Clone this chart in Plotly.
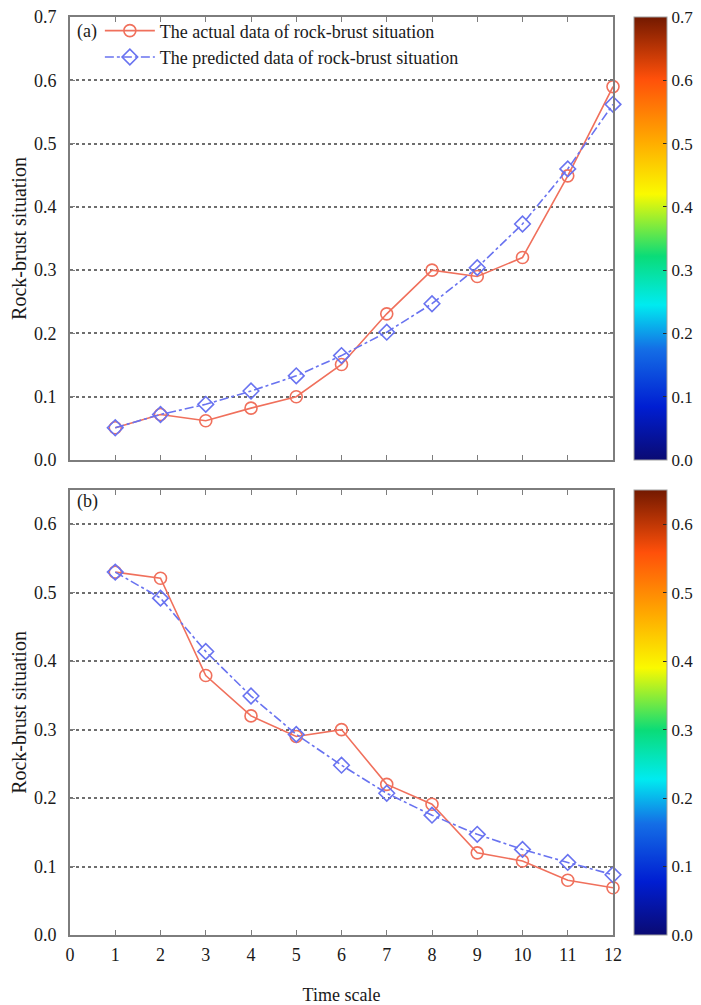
import plotly.graph_objects as go

time_steps = [1, 2, 3, 4, 5, 6, 7, 8, 9, 10, 11, 12]
actual_a = [0.051, 0.072, 0.062, 0.082, 0.100, 0.151, 0.231, 0.300, 0.290, 0.320, 0.449, 0.590]
predicted_a = [0.051, 0.072, 0.088, 0.109, 0.133, 0.165, 0.202, 0.247, 0.304, 0.373, 0.460, 0.562]
actual_b = [0.530, 0.521, 0.379, 0.320, 0.290, 0.300, 0.220, 0.191, 0.120, 0.108, 0.080, 0.069]
predicted_b = [0.530, 0.492, 0.414, 0.349, 0.293, 0.248, 0.207, 0.175, 0.147, 0.125, 0.106, 0.088]
x_ticks = list(range(0, 13))
y_ticks_a = [0.0, 0.1, 0.2, 0.3, 0.4, 0.5, 0.6, 0.7]
y_ticks_b = [0.0, 0.1, 0.2, 0.3, 0.4, 0.5, 0.6]

FONT = "Liberation Serif, Times New Roman, serif"
RED = "rgb(240,112,92)"
BLUE = "rgb(105,115,240)"
FRAME = "rgb(125,125,125)"
GRID = "rgb(110,110,110)"
TXT = "#1a1a1a"
JET = [
    [0.0, "rgb(10,10,115)"],
    [0.12, "rgb(0,30,210)"],
    [0.25, "rgb(20,110,230)"],
    [0.35, "rgb(0,235,240)"],
    [0.46, "rgb(10,220,120)"],
    [0.60, "rgb(250,250,0)"],
    [0.72, "rgb(255,170,0)"],
    [0.86, "rgb(255,80,10)"],
    [1.0, "rgb(115,25,0)"],
]

fig = go.Figure()

fig.add_trace(go.Scatter(x=time_steps, y=actual_a, mode="lines+markers",
                         name="The actual data of rock-brust situation",
                         line=dict(color=RED, width=1.6),
                         marker=dict(symbol="circle-open", size=12, color=RED, line=dict(width=1.6)),
                         cliponaxis=False, xaxis="x", yaxis="y"))
fig.add_trace(go.Scatter(x=time_steps, y=predicted_a, mode="lines+markers",
                         name="The predicted data of rock-brust situation",
                         line=dict(color=BLUE, width=1.6, dash="dashdot"),
                         marker=dict(symbol="diamond-open", size=12, color=BLUE, line=dict(width=1.6)),
                         cliponaxis=False, xaxis="x", yaxis="y"))
fig.add_trace(go.Scatter(x=time_steps, y=actual_b, mode="lines+markers", showlegend=False,
                         line=dict(color=RED, width=1.6),
                         marker=dict(symbol="circle-open", size=12, color=RED, line=dict(width=1.6)),
                         cliponaxis=False, xaxis="x2", yaxis="y2"))
fig.add_trace(go.Scatter(x=time_steps, y=predicted_b, mode="lines+markers", showlegend=False,
                         line=dict(color=BLUE, width=1.6, dash="dashdot"),
                         marker=dict(symbol="diamond-open", size=12, color=BLUE, line=dict(width=1.6)),
                         cliponaxis=False, xaxis="x2", yaxis="y2"))


def cbar_trace(cmax, ticks, y, yanchor, length, xa, ya):
    return go.Scatter(x=[None], y=[None], mode="markers", showlegend=False, hoverinfo="skip",
                      xaxis=xa, yaxis=ya,
                      marker=dict(color=[0], colorscale=JET, cmin=0, cmax=cmax, showscale=True,
                                  colorbar=dict(x=1.038, xanchor="left", xref="paper",
                                                y=y, yanchor=yanchor, len=length, lenmode="fraction",
                                                thickness=33, outlinewidth=1, outlinecolor="rgb(160,160,160)",
                                                tickvals=ticks, ticktext=[f"{t:.1f}" for t in ticks],
                                                ticks="inside", ticklen=4, tickcolor="rgb(40,40,40)",
                                                ticklabeloverflow="allow",
                                                tickfont=dict(family=FONT, size=17, color=TXT),
                                                xpad=0, ypad=0)))


fig.add_trace(cbar_trace(0.7, y_ticks_a, 1.0, "top", 0.4826, "x", "y"))
fig.add_trace(cbar_trace(0.65, y_ticks_b, 0.0, "bottom", 0.4848, "x2", "y2"))

xcommon = dict(range=[0, 12], showgrid=False, zeroline=False, showline=True, linecolor=FRAME,
               linewidth=2, mirror="ticks", ticks="inside", ticklen=5, tickcolor=FRAME,
               tickvals=x_ticks, tickfont=dict(family=FONT, size=18, color=TXT))
ycommon = dict(showgrid=True, gridcolor=GRID, gridwidth=2, griddash="3px,3px", zeroline=False,
               showline=True, linecolor=FRAME, linewidth=2, mirror="ticks", ticks="inside",
               ticklen=5, tickcolor=FRAME, tickfont=dict(family=FONT, size=18, color=TXT),
               ticklabelstandoff=8, ticklabeloverflow="allow",
               title=dict(text="Rock-brust situation", font=dict(family=FONT, size=20, color=TXT),
                          standoff=6))

# page body adds an 8px offset, so the figure is sized/margined to land on the reference positions
fig.update_layout(
    width=693, height=997,
    margin=dict(l=62, r=88, t=9, b=70, autoexpand=False),
    paper_bgcolor="white", plot_bgcolor="white",
    font=dict(family=FONT, size=18, color=TXT),
    xaxis=dict(xcommon, domain=[0, 1], anchor="y", showticklabels=False),
    yaxis=dict(ycommon, domain=[0.5174, 1], anchor="x", range=[0, 0.7],
               tickvals=y_ticks_a, ticktext=[f"{t:.1f}" for t in y_ticks_a]),
    xaxis2=dict(xcommon, domain=[0, 1], anchor="y2", showticklabels=True, ticklabelstandoff=2,
                title=dict(text="Time scale", font=dict(family=FONT, size=18, color=TXT), standoff=27)),
    yaxis2=dict(ycommon, domain=[0, 0.4848], anchor="x2", range=[0, 0.65],
                tickvals=y_ticks_b, ticktext=[f"{t:.1f}" for t in y_ticks_b]),
    legend=dict(x=0.055, y=1.005, xanchor="left", yanchor="top", xref="paper", yref="paper",
                bgcolor="rgba(255,255,255,0)", borderwidth=0, font=dict(family=FONT, size=18, color=TXT),
                itemwidth=50, tracegroupgap=0),
    annotations=[
        dict(text="(a)", x=0.01, y=0.9837, xref="paper", yref="paper", xanchor="left", yanchor="middle",
             showarrow=False, font=dict(family=FONT, size=18, color=TXT)),
        dict(text="(b)", x=0.01, y=0.4717, xref="paper", yref="paper", xanchor="left", yanchor="middle",
             showarrow=False, font=dict(family=FONT, size=18, color=TXT)),
    ],
)

fig.write_html("out.html")
